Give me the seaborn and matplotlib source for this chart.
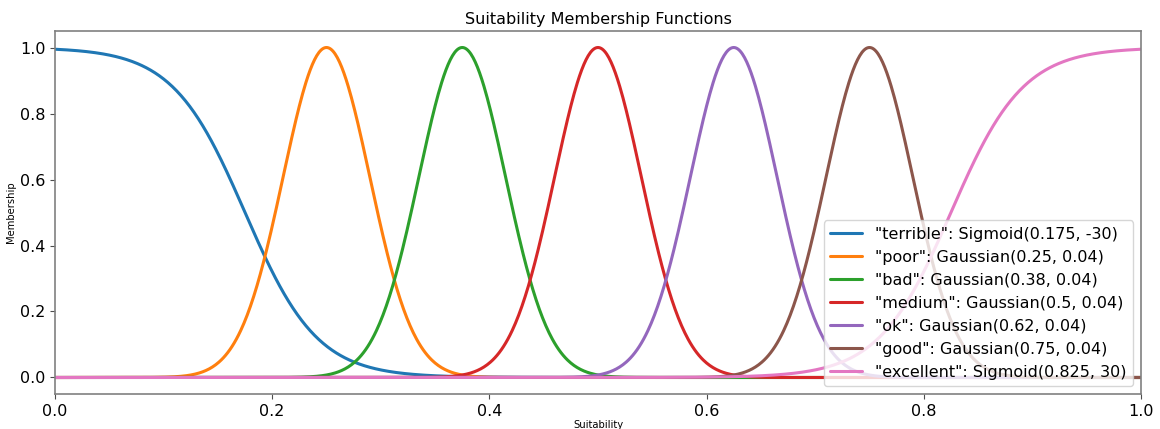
import numpy as np
import pandas as pd
import matplotlib
matplotlib.use("Agg")
import matplotlib.pyplot as plt
import seaborn as sns

# Membership function definitions
names = ["terrible", "poor", "bad", "medium", "ok", "good", "excellent"]
kinds = ["Sigmoid", "Gaussian", "Gaussian", "Gaussian", "Gaussian", "Gaussian", "Sigmoid"]
centers = [0.175, 0.25, 0.375, 0.5, 0.625, 0.75, 0.825]
params = [-30, 0.04, 0.04, 0.04, 0.04, 0.04, 30]
center_text = ["0.175", "0.25", "0.38", "0.5", "0.62", "0.75", "0.825"]


def membership(kind, c, p, x):
    if kind == "Sigmoid":
        return 1.0 / (1.0 + np.exp(-p * (x - c)))
    return np.exp(-((x - c) ** 2) / (2.0 * p ** 2))


x = np.linspace(0.0, 1.0, 1001)
frames = []
for name, kind, c, p, ct in zip(names, kinds, centers, params, center_text):
    label = f'"{name}": {kind}({ct}, {p})'
    frames.append(pd.DataFrame({"Suitability": x,
                                "Membership": membership(kind, c, p, x),
                                "fn": label}))
df = pd.concat(frames, ignore_index=True)

sns.set_style("white")
plt.rcParams["font.family"] = ["DejaVu Sans"]
plt.rcParams["text.color"] = "black"
plt.rcParams["axes.labelcolor"] = "black"
plt.rcParams["xtick.color"] = "black"
plt.rcParams["ytick.color"] = "black"

fig = plt.figure(figsize=(11.6, 4.29), dpi=100)
ax = fig.add_axes([0.0474, 0.0816, 0.9362, 0.8461])

sns.lineplot(data=df, x="Suitability", y="Membership", hue="fn",
             palette="tab10", linewidth=2.2, ax=ax, legend=True)

ax.set_xlim(0, 1)
ax.set_ylim(-0.05, 1.05)
ax.set_title("Suitability Membership Functions", fontsize=11.5, color="black", pad=5)
ax.set_xlabel("Suitability", fontsize=7.2, labelpad=1)
ax.set_ylabel("Membership", fontsize=7.2, labelpad=3)
ax.tick_params(axis="both", labelsize=11.5, length=3.5, width=0.8, direction="out",
               left=True, bottom=True)
ax.tick_params(axis="both", color="0.3")
for s in ax.spines.values():
    s.set_color("0.5")
    s.set_linewidth(1.2)

leg = ax.legend(loc="lower right", fontsize=11.5, framealpha=0.8, title=None)
for t in leg.get_texts():
    t.set_color("black")

fig.savefig("out.png", dpi=100)
